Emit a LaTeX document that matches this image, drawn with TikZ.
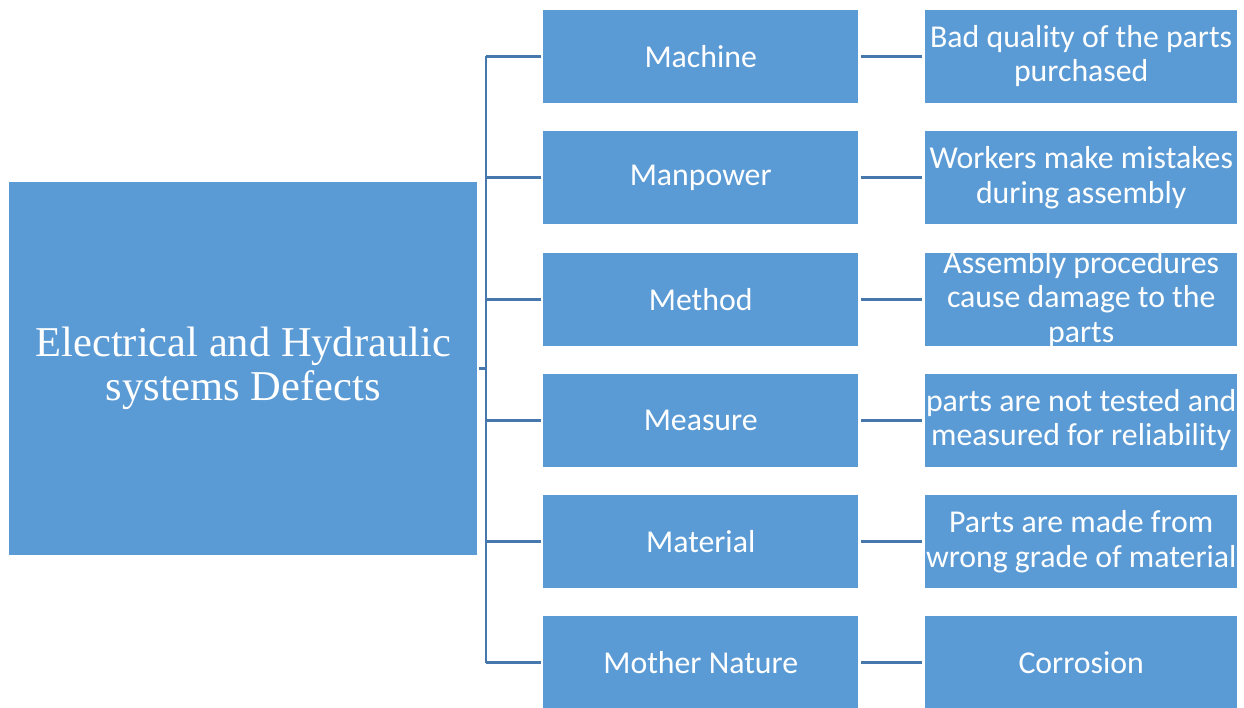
\documentclass[tikz,border=0pt]{standalone}
\usepackage{fontspec}
\setmainfont{Carlito}
\newfontfamily\serifface{Liberation Serif}
\definecolor{boxblue}{HTML}{5B9BD5}
\definecolor{linkblue}{HTML}{4677AD}
\begin{document}
\begin{tikzpicture}[x=1pt,y=-1pt,
  boxtext/.style={text=white,font=\fontsize{31.8}{34.5}\selectfont,align=center,inner sep=0pt},
  cause/.style={fill=boxblue,draw=none,minimum width=315pt,minimum height=93pt,
    anchor=north west,inner sep=0pt,boxtext},
  effect/.style={fill=boxblue,draw=none,minimum width=312pt,minimum height=93pt,
    anchor=north west,inner sep=0pt,
    label={[boxtext]center:{#1}}},
  link/.style={draw=linkblue,line width=2.6pt}]
\useasboundingbox (0,0) rectangle (1244,707);
\begin{scope}
\clip (0,0) rectangle (1244,707);
% main problem box
\node[fill=boxblue,minimum width=468pt,minimum height=373pt,anchor=north west,
  inner sep=0pt,text=white,align=center,
  font=\serifface\fontsize{42.5}{44}\selectfont] (main) at (9,182)
  {Electrical and Hydraulic\\systems Defects};
% category boxes
\node[cause] (c1) at (543,9.5) {Machine};
\node[cause] (c2) at (543,131) {Manpower};
\node[cause] (c3) at (543,252.5) {Method};
\node[cause] (c4) at (543,373.5) {Measure};
\node[cause] (c5) at (543,495) {Material};
\node[cause] (c6) at (543,616) {Mother Nature};
% detailed causes (fixed-size boxes, text centred over them)
\node[effect={Bad quality of the parts\\purchased}] (e1) at (925,9.5) {};
\node[effect={Workers make mistakes\\during assembly}] (e2) at (925,131) {};
\node[effect={Assembly procedures\\cause damage to the\\parts}] (e3) at (925,252.5) {};
\node[effect={parts are not tested and\\measured for reliability}] (e4) at (925,373.5) {};
\node[effect={Parts are made from\\wrong grade of material}] (e5) at (925,495) {};
\node[effect={Corrosion}] (e6) at (925,616) {};
\end{scope}
% spine
\coordinate (spT) at (486,56);
\coordinate (spB) at (486,662.5);
\draw[link] (spT) -- (spB);
\draw[link] ([xshift=2pt]main.east) -- (main.east -| spT);
\foreach \i in {1,...,6}{
  \draw[link] (c\i.west -| spT) -- ([xshift=-2pt]c\i.west);
  \draw[link] ([xshift=3pt]c\i.east) -- ([xshift=-3pt]e\i.west);
}
\end{tikzpicture}
\end{document}
